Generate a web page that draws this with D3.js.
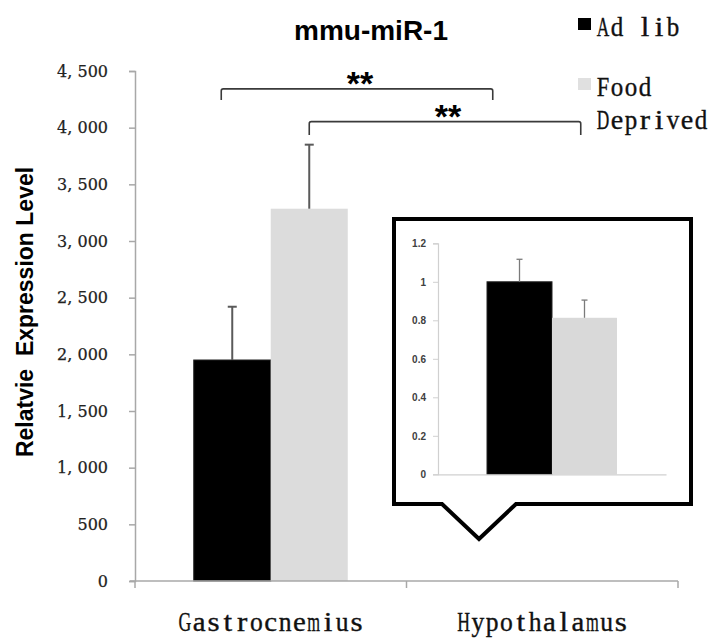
<!DOCTYPE html>
<html>
<head>
<meta charset="utf-8">
<script src="https://cdn.jsdelivr.net/npm/d3@7"></script>
<style>
  html, body { margin: 0; padding: 0; background: #fff; }
  svg { display: block; }
</style>
</head>
<body>
<svg id="chart" width="715" height="639"></svg>
<script>
// Expression data (mean and upward SD) per tissue
const categories = ["Gastrocnemius", "Hypothalamus"];
const series = ["Ad lib", "Food Deprived"];
const adLibMean = [1950, 1.0];
const adLibErr = [470, 0.117];
const foodMean = [3285, 0.813];
const foodErr = [565, 0.092];
const yTicks = [0, 500, 1000, 1500, 2000, 2500, 3000, 3500, 4000, 4500];
const insetTicks = [0, 0.2, 0.4, 0.6, 0.8, 1, 1.2];
// significance brackets between bar groups
const brackets = [
  { s0: 0, c0: 0, s1: 0, c1: 1, level: 4342, drop: 4245, shift: -11, label: "**" },
  { s0: 1, c0: 0, s1: 1, c1: 1, level: 4053, drop: 3936, shift: 0, label: "**" }
];

const colors = ["#000000", "#dcdcdc"];
const svg = d3.select("#chart");

// Fixed-pitch serif text: every character sits in its own cell,
// squeezed horizontally when the glyph is wider than the cell
function monoText(parent, str, x0, baseline, cell, size) {
  const grp = parent.append("g");
  [...str].forEach((ch, i) => {
    if (ch === " ") return;
    const t = grp.append("text")
      .attr("x", 0)
      .attr("y", 0)
      .attr("text-anchor", "middle")
      .attr("font-family", "'Liberation Serif', 'DejaVu Serif', serif")
      .attr("font-size", size)
      .attr("fill", "#111")
      .attr("stroke", "#111").attr("stroke-width", 0.35)
      .text(ch);
    const w = t.node().getComputedTextLength();
    const sx = Math.min(1.15, (cell - 1.5) / w);
    t.attr("transform", `translate(${x0 + i * cell + cell / 2},${baseline}) scale(${sx},1)`);
  });
  return grp;
}

const rows = categories.map((c, i) => ({
  cat: c,
  vals: [
    { s: 0, mean: adLibMean[i], err: adLibErr[i] },
    { s: 1, mean: foodMean[i], err: foodErr[i] }
  ]
}));

// ---- main chart ----
const x = d3.scaleBand().domain(categories).range([135, 678]).paddingInner(0).paddingOuter(0);
const xs = d3.scaleBand().domain([0, 1]).range([0, x.bandwidth()]).paddingInner(0).paddingOuter(0.763);
const y = d3.scaleLinear().domain([0, 4500]).range([581, 71]);

const cx = (s, c) => x(categories[c]) + xs(s) + xs.bandwidth() / 2;

const g = svg.append("g");

g.selectAll("g.cat").data(rows.slice(0, 1)).join("g")
  .attr("class", "cat")
  .each(function (d) {
    const gg = d3.select(this);
    gg.selectAll("rect").data(d.vals).join("rect")
      .attr("x", v => x(d.cat) + xs(v.s))
      .attr("width", xs.bandwidth())
      .attr("y", v => y(v.mean))
      .attr("height", v => y(0) - y(v.mean))
      .attr("fill", v => colors[v.s])
      .attr("stroke", v => v.s === 0 ? "#222" : "none")
      .attr("stroke-width", 1);
    const eb = gg.selectAll("g.err").data(d.vals).join("g").attr("class", "err")
      .attr("stroke", "#5a5a5a").attr("stroke-width", 2);
    eb.append("line")
      .attr("x1", v => x(d.cat) + xs(v.s) + xs.bandwidth() / 2)
      .attr("x2", v => x(d.cat) + xs(v.s) + xs.bandwidth() / 2)
      .attr("y1", v => y(v.mean))
      .attr("y2", v => y(v.mean + v.err));
    eb.append("line")
      .attr("x1", v => x(d.cat) + xs(v.s) + xs.bandwidth() / 2 - 4.5)
      .attr("x2", v => x(d.cat) + xs(v.s) + xs.bandwidth() / 2 + 4.5)
      .attr("y1", v => y(v.mean + v.err))
      .attr("y2", v => y(v.mean + v.err));
  });

// y axis
const yAxis = g.append("g").attr("transform", "translate(135,0)")
  .call(d3.axisLeft(y).tickValues(yTicks).tickSize(6).tickPadding(21)
    .tickFormat(v => d3.format(",")(v).replace(",", ", ")));
yAxis.select(".domain").attr("stroke", "#a8a8a8").attr("stroke-width", 1.5);
yAxis.selectAll(".tick line").attr("stroke", "#a8a8a8").attr("stroke-width", 1.5);
yAxis.selectAll(".tick text")
  .attr("font-family", "'DejaVu Serif', serif").attr("font-size", 16).attr("fill", "#222")
  .attr("stroke", "#222").attr("stroke-width", 0.25);

// x axis
const xAxis = g.append("g").attr("transform", `translate(0,${y(0)})`)
  .call(d3.axisBottom(x).tickSize(0).tickFormat(""));
xAxis.select(".domain").attr("d", `M130,0H${x.range()[1]}`).attr("stroke", "#a8a8a8").attr("stroke-width", 1.5);
xAxis.selectAll("line.sep").data([...categories.map(c => x(c)), x.range()[1]]).join("line")
  .attr("class", "sep")
  .attr("x1", d => d).attr("x2", d => d).attr("y1", 0).attr("y2", 7)
  .attr("stroke", "#a8a8a8").attr("stroke-width", 1.5);
categories.forEach(c => {
  const cell = 14.3;
  monoText(g, c, x(c) + x.bandwidth() / 2 - c.length * cell / 2, 631, cell, 27);
});

// significance brackets
const bg = g.append("g");
brackets.forEach(b => {
  const xa = cx(b.s0, b.c0) + b.shift, xb = cx(b.s1, b.c1) + b.shift;
  bg.append("path")
    .attr("d", `M${xa},${y(b.drop)}V${y(b.level) + 2}Q${xa},${y(b.level)} ${xa + 2},${y(b.level)}H${xb - 2}Q${xb},${y(b.level)} ${xb},${y(b.level) + 2}V${y(b.drop)}`)
    .attr("fill", "none").attr("stroke", "#3a3a3a").attr("stroke-width", 1.6);
  bg.append("text")
    .attr("x", (xa + xb) / 2 + 3)
    .attr("y", y(b.level) + 6)
    .attr("text-anchor", "middle")
    .attr("font-family", "'Liberation Sans', Arial, sans-serif")
    .attr("font-weight", "bold")
    .attr("font-size", 34)
    .attr("fill", "#000")
    .text(b.label);
});

// title
svg.append("text").attr("x", 371).attr("y", 40).attr("text-anchor", "middle")
  .attr("font-family", "'Liberation Sans', Arial, sans-serif").attr("font-weight", "bold")
  .attr("font-size", 28).attr("fill", "#000").text("mmu-miR-1");

// y-axis title
svg.append("text")
  .attr("transform", "translate(33,312) rotate(-90)")
  .attr("text-anchor", "middle")
  .attr("font-family", "'Liberation Sans', Arial, sans-serif").attr("font-weight", "bold")
  .attr("font-size", 23).attr("fill", "#000")
  .style("white-space", "pre")
  .text("Relatvie  Expression Level");

// legend
const legendItems = [
  { s: 0, lines: ["Ad lib"], y: 36 },
  { s: 1, lines: ["Food", "Deprived"], y: 96 }
];
const lg = svg.append("g");
legendItems.forEach(it => {
  lg.append("rect").attr("x", 578).attr("y", it.y - 18).attr("width", 13).attr("height", 12)
    .attr("fill", it.s === 0 ? "#000" : "#e0e0e0");
  it.lines.forEach((t, k) => {
    monoText(lg, t, 596, it.y + k * 33, 14.0, 27);
  });
});

// ---- inset: hypothalamus on its own scale ----
const ig = svg.append("g");
ig.append("path")
  .attr("d", "M394,219H691V504H516L479,539L442,504H394Z")
  .attr("fill", "#fff").attr("stroke", "#000").attr("stroke-width", 4).attr("stroke-linejoin", "miter");

const ix = d3.scaleBand().domain([categories[1]]).range([438, 666]);
const ixs = d3.scaleBand().domain([0, 1]).range([0, ix.bandwidth()]).paddingInner(0).paddingOuter(0.754);
const iy = d3.scaleLinear().domain([0, 1.2]).range([474.3, 243.3]);

const hyp = rows[1];
ig.selectAll("rect.bar").data(hyp.vals).join("rect").attr("class", "bar")
  .attr("x", v => ix(hyp.cat) + ixs(v.s))
  .attr("width", ixs.bandwidth())
  .attr("y", v => iy(v.mean))
  .attr("height", v => iy(0) - iy(v.mean))
  .attr("fill", v => v.s === 0 ? "#000" : "#d9d9d9")
  .attr("stroke", v => v.s === 0 ? "#222" : "none");
const ieb = ig.selectAll("g.ierr").data(hyp.vals).join("g").attr("class", "ierr")
  .attr("stroke", "#7a7a7a").attr("stroke-width", 1.3);
ieb.append("line")
  .attr("x1", v => ix(hyp.cat) + ixs(v.s) + ixs.bandwidth() / 2)
  .attr("x2", v => ix(hyp.cat) + ixs(v.s) + ixs.bandwidth() / 2)
  .attr("y1", v => iy(v.mean)).attr("y2", v => iy(v.mean + v.err));
ieb.append("line")
  .attr("x1", v => ix(hyp.cat) + ixs(v.s) + ixs.bandwidth() / 2 - 3)
  .attr("x2", v => ix(hyp.cat) + ixs(v.s) + ixs.bandwidth() / 2 + 3)
  .attr("y1", v => iy(v.mean + v.err)).attr("y2", v => iy(v.mean + v.err));

const iyAxis = ig.append("g").attr("transform", "translate(438,0)")
  .call(d3.axisLeft(iy).tickValues(insetTicks).tickSize(5).tickPadding(7).tickFormat(d3.format("~g")));
iyAxis.select(".domain").attr("stroke", "#d0d0d0").attr("stroke-width", 1.2);
iyAxis.selectAll(".tick line").attr("stroke", "#d0d0d0");
iyAxis.selectAll(".tick text").attr("font-family", "'Liberation Sans', Arial, sans-serif")
  .attr("font-weight", "bold").attr("font-size", 10).attr("fill", "#404040");
const ixAxis = ig.append("g").attr("transform", `translate(0,${iy(0)})`)
  .call(d3.axisBottom(ix).tickSize(0).tickFormat(""));
ixAxis.select(".domain").attr("stroke", "#d0d0d0").attr("stroke-width", 1.2);
</script>
</body>
</html>
